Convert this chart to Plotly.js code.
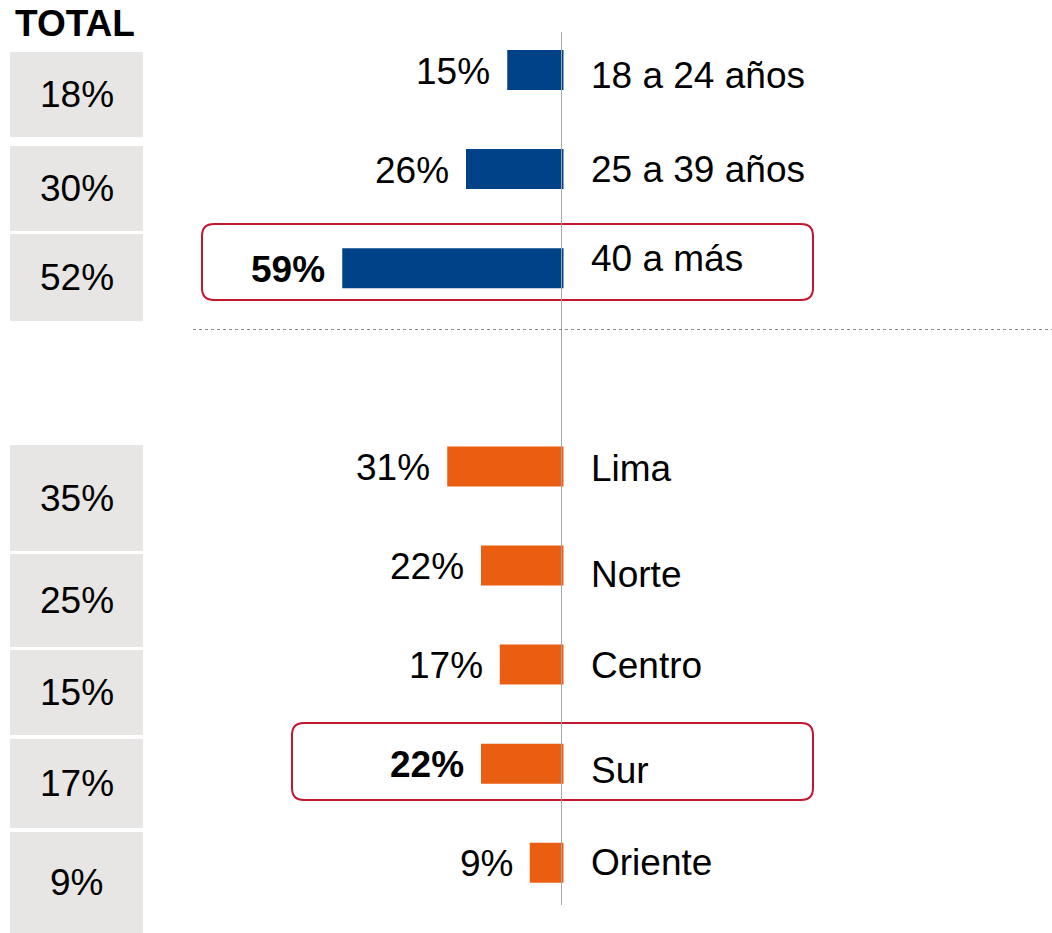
<!DOCTYPE html>
<html>
<head>
<meta charset="utf-8">
<script src="https://cdn.plot.ly/plotly-3.0.1.min.js"></script>
<style>html,body{margin:0;padding:0;background:#fff;}#chart{width:1052px;height:933px;}</style>
</head>
<body>
<div id="chart"></div>
<script>
// ---------- DATA ----------
const ageCategories = ['18 a 24 años', '25 a 39 años', '40 a más'];
const ageValues = [15, 26, 59];
const ageTotals = [18, 30, 52];
const regionCategories = ['Lima', 'Norte', 'Centro', 'Sur', 'Oriente'];
const regionValues = [31, 22, 17, 22, 9];
const regionTotals = [35, 25, 15, 17, 9];
const highlighted = ['40 a más', 'Sur'];
const totalTitle = 'TOTAL';

// ---------- LAYOUT CONSTANTS ----------
const W = 1052, H = 933;
const FONT = 'Liberation Sans, Arial, Helvetica, sans-serif';
const FS = 37;
const BLUE = '#004287', ORANGE = '#E95E10', RED = '#C3162F', GREY_BOX = '#E7E6E5';
const zeroPx = 563.5, pxPerPct = 3.75;
const firstRowPx = 70, rowPitch = 99.1, barPx = 40;
const ageRows = [0, 1, 2];
const regionRows = [4, 5, 6, 7, 8];
// vertical nudges of the category labels (px, positive = down)
const ageLabelNudge = [5, 0, -10];
const regionLabelNudge = [2, 9, 1, 7, 0];
// grey total boxes (px, top/bottom)
const ageBoxes = [[52, 137], [146, 231], [234, 321]];
const regionBoxes = [[445, 551], [554, 647], [650, 735], [739, 828], [832, 933]];
const boxLeft = 10, boxRight = 143;
// highlight frames (px): left, top, right, bottom
const frames = {'40 a más': [202, 224, 813, 300], 'Sur': [292, 723, 813, 800]};

const px = p => p / W;
const py = p => 1 - p / H;

const traces = [
  {
    type: 'bar', orientation: 'h',
    x: ageValues.map(v => -v), y: ageRows,
    width: barPx / rowPitch,
    marker: {color: BLUE, line: {width: 0}},
    hoverinfo: 'skip', showlegend: false
  },
  {
    type: 'bar', orientation: 'h',
    x: regionValues.map(v => -v), y: regionRows,
    width: barPx / rowPitch,
    marker: {color: ORANGE, line: {width: 0}},
    hoverinfo: 'skip', showlegend: false
  }
];

const annotations = [];
const shapes = [];

function addGroup(cats, vals, totals, rows, nudges, boxes) {
  cats.forEach((c, i) => {
    const hl = highlighted.includes(c);
    // value label
    annotations.push({
      xref: 'x', yref: 'y', x: -vals[i], y: rows[i],
      xanchor: 'right', yanchor: 'middle', xshift: -15, yshift: -1,
      text: hl ? '<b>' + vals[i] + '%</b>' : vals[i] + '%',
      showarrow: false, font: {family: FONT, size: FS, color: '#000'}
    });
    // category label
    annotations.push({
      xref: 'x', yref: 'y', x: 0, y: rows[i],
      xanchor: 'left', yanchor: 'middle', xshift: 25, yshift: -nudges[i],
      text: c, showarrow: false, font: {family: FONT, size: FS, color: '#000'}
    });
    // grey total box
    const b = boxes[i];
    shapes.push({
      type: 'rect', xref: 'paper', yref: 'paper', layer: 'below',
      x0: px(boxLeft), x1: px(boxRight), y0: py(b[1]), y1: py(b[0]),
      fillcolor: GREY_BOX, line: {width: 0}
    });
    annotations.push({
      xref: 'paper', yref: 'paper', x: px((boxLeft + boxRight) / 2), y: py((b[0] + b[1]) / 2),
      xanchor: 'center', yanchor: 'middle',
      text: totals[i] + '%', showarrow: false, font: {family: FONT, size: FS, color: '#000'}
    });
    // highlight frame
    if (hl) {
      const f = frames[c];
      const r = 12;
      const L = px(f[0]), R = px(f[2]), T = py(f[1]), B = py(f[3]);
      const rx = r / W, ry = r / H;
      const path = `M ${L + rx} ${T} L ${R - rx} ${T} Q ${R} ${T} ${R} ${T - ry} ` +
        `L ${R} ${B + ry} Q ${R} ${B} ${R - rx} ${B} L ${L + rx} ${B} Q ${L} ${B} ${L} ${B + ry} ` +
        `L ${L} ${T - ry} Q ${L} ${T} ${L + rx} ${T} Z`;
      shapes.push({type: 'path', xref: 'paper', yref: 'paper', path: path,
        line: {color: RED, width: 2}, fillcolor: 'rgba(0,0,0,0)', layer: 'above'});
    }
  });
}
addGroup(ageCategories, ageValues, ageTotals, ageRows, ageLabelNudge, ageBoxes);
addGroup(regionCategories, regionValues, regionTotals, regionRows, regionLabelNudge, regionBoxes);

// TOTAL title
annotations.push({
  xref: 'paper', yref: 'paper', x: px(74.5), y: py(24), xanchor: 'center', yanchor: 'middle',
  text: '<b>' + totalTitle + '</b>', showarrow: false, font: {family: FONT, size: 37, color: '#000'}
});

// vertical axis line
shapes.push({type: 'line', xref: 'paper', yref: 'paper', x0: px(561.5), x1: px(561.5), y0: py(32), y1: py(905),
  line: {color: '#A6A6A6', width: 1}, layer: 'above'});
// dotted separator
shapes.push({type: 'line', xref: 'paper', yref: 'paper', x0: px(193), x1: 1, y0: py(329.5), y1: py(329.5),
  line: {color: '#8C8C8C', width: 1, dash: 'dot'}});

const layout = {
  width: W, height: H,
  margin: {l: 0, r: 0, t: 0, b: 0, pad: 0},
  paper_bgcolor: '#fff', plot_bgcolor: '#fff',
  showlegend: false, barmode: 'overlay',
  xaxis: {range: [-zeroPx / pxPerPct, (W - zeroPx) / pxPerPct], visible: false, fixedrange: true},
  yaxis: {range: [(H - firstRowPx) / rowPitch, -firstRowPx / rowPitch], autorange: false, visible: false, fixedrange: true},
  annotations: annotations,
  shapes: shapes,
  font: {family: FONT}
};

Plotly.newPlot('chart', traces, layout, {staticPlot: true, displayModeBar: false});
</script>
</body>
</html>
